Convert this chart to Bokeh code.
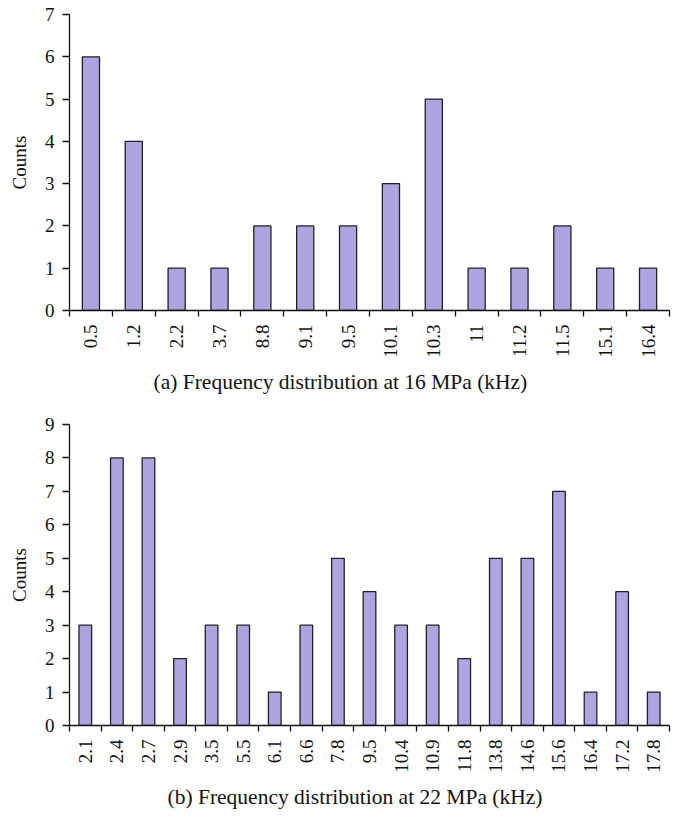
import math
from bokeh.plotting import figure
from bokeh.layouts import column
from bokeh.models import Range1d, FixedTicker, ColumnDataSource, Title
from bokeh.embed import file_html
from bokeh.resources import INLINE

top_labels = ["0.5", "1.2", "2.2", "3.7", "8.8", "9.1", "9.5", "10.1", "10.3", "11", "11.2", "11.5", "15.1", "16.4"]
top_counts = [6, 4, 1, 1, 2, 2, 2, 3, 5, 1, 1, 2, 1, 1]
top_caption = "(a) Frequency distribution at 16 MPa (kHz)"
top_ymax = 7

bot_labels = ["2.1", "2.4", "2.7", "2.9", "3.5", "5.5", "6.1", "6.6", "7.8", "9.5", "10.4", "10.9", "11.8", "13.8", "14.6", "15.6", "16.4", "17.2", "17.8"]
bot_counts = [3, 8, 8, 2, 3, 3, 1, 3, 5, 4, 3, 3, 2, 5, 5, 7, 1, 4, 1]
bot_caption = "(b) Frequency distribution at 22 MPa (kHz)"
bot_ymax = 9

FONT = "Liberation Serif"
BAR = "#ADA5E0"
INK = "#111111"


def make(labels, counts, caption, ymax, height, left, right, top, bottom, cap_offset, cap_standoff):
    n = len(labels)
    xs = [i + 0.5 for i in range(n)]
    src = ColumnDataSource(dict(x=xs, top=counts))
    p = figure(width=676, height=height, output_backend="svg", toolbar_location=None,
               x_range=Range1d(0, n), y_range=Range1d(0, ymax),
               min_border_left=left, min_border_right=right,
               min_border_top=top, min_border_bottom=bottom)
    p.vbar(x="x", top="top", width=0.4, source=src, fill_color=BAR,
           line_color="#222222", line_width=1.3)
    p.outline_line_color = None
    p.xgrid.visible = False
    p.ygrid.visible = False

    xa = p.xaxis[0]
    xa.ticker = FixedTicker(ticks=xs, minor_ticks=list(range(n + 1)))
    xa.major_label_overrides = {x: lab for x, lab in zip(xs, labels)}
    xa.major_label_orientation = math.pi / 2
    xa.major_tick_line_color = None
    xa.minor_tick_line_color = INK
    xa.minor_tick_out = 6
    xa.minor_tick_in = 0
    xa.axis_line_color = INK
    xa.axis_line_width = 1.3
    xa.minor_tick_line_width = 1.3
    xa.major_label_standoff = 8
    xa.major_label_text_font = FONT
    xa.major_label_text_font_size = "19px"
    xa.major_label_text_color = INK

    cap = Title(text=caption, align="left", offset=cap_offset,
                text_font=FONT, text_font_size="21.5px", text_color=INK,
                text_font_style="normal", standoff=cap_standoff)
    p.add_layout(cap, "below")

    ya = p.yaxis[0]
    ya.ticker = FixedTicker(ticks=list(range(ymax + 1)))
    ya.minor_tick_line_color = None
    ya.major_tick_out = 7
    ya.major_tick_in = 0
    ya.major_tick_line_color = INK
    ya.major_tick_line_width = 1.3
    ya.axis_line_color = INK
    ya.axis_line_width = 1.3
    ya.major_label_standoff = 8
    ya.major_label_text_font = FONT
    ya.major_label_text_font_size = "19px"
    ya.major_label_text_color = INK
    ya.axis_label = "Counts"
    ya.axis_label_text_font = FONT
    ya.axis_label_text_font_size = "19px"
    ya.axis_label_text_font_style = "normal"
    ya.axis_label_text_color = INK
    ya.axis_label_standoff = 12
    return p


p1 = make(top_labels, top_counts, top_caption, top_ymax, 400, 69, 7, 14, 90, 84, 14)
p2 = make(bot_labels, bot_counts, bot_caption, bot_ymax, 417, 56, 1, 24, 92, 98, 14)

layout = column(p1, p2, spacing=0)
open("out.html", "w").write(file_html(layout, INLINE))
